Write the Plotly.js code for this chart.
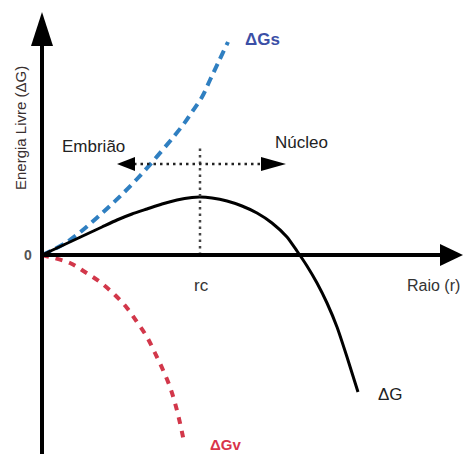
<!DOCTYPE html>
<html>
<head>
<meta charset="utf-8">
<script src="https://cdn.plot.ly/plotly-3.0.1.min.js"></script>
<style>html,body{margin:0;padding:0;background:#fff;}#chart{width:465px;height:454px;}</style>
</head>
<body>
<div id="chart"></div>
<script>
// ΔGs (surface term)
const rGs = [0, 25, 58, 95, 141, 150, 160, 168, 176, 186];
const vGs = [0, 13, 40, 76, 130, 143, 158, 175, 192, 213];
// ΔGv (volume term)
const rGv = [0, 8, 28, 43, 58, 73, 85, 95, 105, 113, 121, 128, 133, 138, 142];
const vGv = [0, -2, -8, -17, -27, -40, -53, -67, -82, -98, -115, -132, -148, -168, -187];
// ΔG total
const rG = [0, 15, 30, 45, 60, 75, 90, 105, 120, 135, 150, 158, 170, 185, 200, 215, 230, 245, 255, 265, 275, 285, 295, 305, 316];
const vG = [0, 7, 14, 21, 28, 35, 41, 46, 51, 55, 57.5, 58, 57, 54, 49, 42, 32, 18, 4, -11, -28, -48, -72, -102, -137];
// critical radius and barrier-level marker
const rc = [158];
const rcTop = [108];
const arrowLevel = [91];
const arrowSpan = [92, 220];

const font = "Arial, 'Liberation Sans', sans-serif";

const traces = [
  {x: rGs, y: vGs, mode: 'lines', line: {color: '#2f7fc1', width: 4, dash: '9px,6px', shape: 'spline'}, hoverinfo: 'skip'},
  {x: rGv, y: vGv, mode: 'lines', line: {color: '#d2374a', width: 4, dash: '7px,7px', shape: 'spline'}, hoverinfo: 'skip'},
  {x: rG, y: vG, mode: 'lines', line: {color: '#000', width: 3, shape: 'spline', smoothing: 0.5}, hoverinfo: 'skip'},
  {x: [rc[0], rc[0]], y: [0, rcTop[0]], mode: 'lines', line: {color: '#444', width: 2.5, dash: '2.5px,4px'}, hoverinfo: 'skip'},
  {x: arrowSpan, y: [arrowLevel[0], arrowLevel[0]], mode: 'lines', line: {color: '#222', width: 2.5, dash: '2.5px,4px'}, hoverinfo: 'skip'}
];

const shapes = [
  // y axis
  {type: 'line', xref: 'x', yref: 'y', x0: 0, y0: -199, x1: 0, y1: 212, line: {color: '#000', width: 4}},
  {type: 'path', xref: 'x', yref: 'y', path: 'M -11 209 L 11 209 L 0 243 Z', fillcolor: '#000', line: {width: 0}},
  // x axis
  {type: 'line', xref: 'x', yref: 'y', x0: 0, y0: 0, x1: 400, y1: 0, line: {color: '#000', width: 4}},
  {type: 'path', xref: 'x', yref: 'y', path: 'M 398 11 L 398 -11 L 421 0 Z', fillcolor: '#000', line: {width: 0}},
  // dotted arrow heads
  {type: 'path', xref: 'x', yref: 'y', path: 'M 93 98 L 93 84 L 75 91 Z', fillcolor: '#000', line: {width: 0}},
  {type: 'path', xref: 'x', yref: 'y', path: 'M 219 98 L 219 84 L 244 91 Z', fillcolor: '#000', line: {width: 0}}
];

const ann = (x, y, text, opts) => Object.assign({x: x, y: y, xref: 'x', yref: 'y', text: text, showarrow: false,
  font: {family: font, size: 17, color: '#222'}}, opts || {});

const annotations = [
  ann(220, 216, '<b>ΔGs</b>', {font: {family: font, size: 17, color: '#3b4fa6'}}),
  ann(51, 109, 'Embrião'),
  ann(259, 113, 'Núcleo'),
  ann(159, -30, 'rc', {font: {family: font, size: 17, color: '#333'}}),
  ann(391, -30, 'Raio (r)', {font: {family: font, size: 16, color: '#333'}}),
  ann(348, -139, 'ΔG'),
  ann(183, -189, '<b>ΔGv</b>', {font: {family: font, size: 15, color: '#d9344a'}}),
  ann(-14, 0, '<b>0</b>', {font: {family: font, size: 14, color: '#555'}}),
  ann(-22, 127, 'Energia Livre (ΔG)', {textangle: -90, font: {family: font, size: 15, color: '#3a3030'}})
];

const layout = {
  width: 465, height: 454,
  margin: {l: 0, r: 0, t: 0, b: 0},
  paper_bgcolor: '#fff', plot_bgcolor: '#fff',
  showlegend: false,
  xaxis: {range: [-42, 423], visible: false, fixedrange: true},
  yaxis: {range: [-199, 255], visible: false, fixedrange: true},
  shapes: shapes,
  annotations: annotations
};

Plotly.newPlot('chart', traces, layout, {displayModeBar: false, staticPlot: true});
</script>
</body>
</html>
